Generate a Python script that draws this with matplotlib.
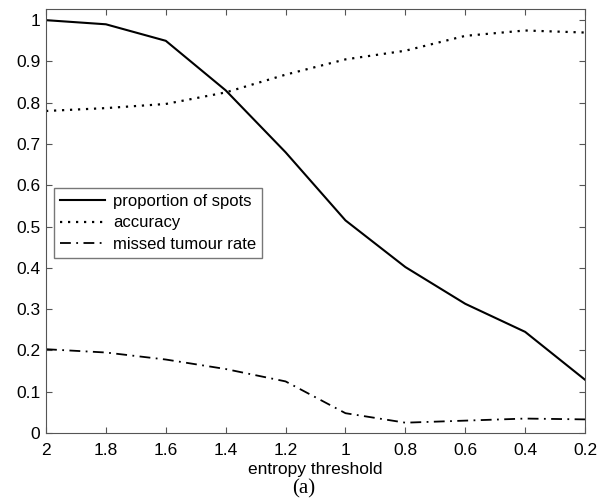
import numpy as np
import matplotlib.pyplot as plt

# data
threshold = [2.0, 1.8, 1.6, 1.4, 1.2, 1.0, 0.8, 0.6, 0.4, 0.2]
spots = [1.0, 0.99, 0.95, 0.83, 0.68, 0.515, 0.402, 0.313, 0.245, 0.129]
accuracy = [0.78, 0.787, 0.797, 0.825, 0.868, 0.905, 0.926, 0.962, 0.975, 0.97]
missed = [0.203, 0.195, 0.178, 0.155, 0.125, 0.048, 0.025, 0.03, 0.035, 0.033]

xticks = [2, 1.8, 1.6, 1.4, 1.2, 1, 0.8, 0.6, 0.4, 0.2]
xticklabels = ['2', '1.8', '1.6', '1.4', '1.2', '1', '0.8', '0.6', '0.4', '0.2']
yticks = [0, 0.1, 0.2, 0.3, 0.4, 0.5, 0.6, 0.7, 0.8, 0.9, 1]
yticklabels = ['0', '0.1', '0.2', '0.3', '0.4', '0.5', '0.6', '0.7', '0.8', '0.9', '1']

plt.rcParams['font.family'] = ['Liberation Sans', 'DejaVu Sans']

fig = plt.figure(figsize=(6.07, 5.01), dpi=100)
ax = fig.add_axes([0.0758, 0.1357, 0.888, 0.8463])

ax.plot(threshold, spots, color='black', lw=1.5, ls='-', label='proportion of spots')
ax.plot(threshold, accuracy, color='black', lw=1.6, ls=(0, (1, 2.6)), label='accuracy')
ax.plot(threshold, missed, color='black', lw=1.3, ls=(0, (6, 3, 1, 3)), label='missed tumour rate')

ax.set_xlim(2, 0.2)
ax.set_ylim(0, 1.027)
ax.set_xticks(xticks)
ax.set_xticklabels(xticklabels)
ax.set_yticks(yticks)
ax.set_yticklabels(yticklabels)
ax.tick_params(direction='in', length=4, top=True, right=True, labelsize=12.5,
               color='#555555', pad=4)
ax.tick_params(axis='x', pad=7)
for s in ax.spines.values():
    s.set_color('#555555')

ax.set_xlabel('entropy threshold', fontsize=12.5, labelpad=3)
fig.text(0.5, 0.005, '(a)', ha='center', va='bottom', fontsize=15,
         family=['Liberation Serif', 'DejaVu Serif'])

leg = ax.legend(loc='upper left', bbox_to_anchor=(0.015, 0.578), borderaxespad=0,
                fontsize=12, fancybox=False, handlelength=2.7, labelspacing=0.4,
                borderpad=0.35, handletextpad=0.5)
leg.get_frame().set_edgecolor('#555555')
leg.get_frame().set_linewidth(1.0)

fig.savefig('out.png', dpi=100)
